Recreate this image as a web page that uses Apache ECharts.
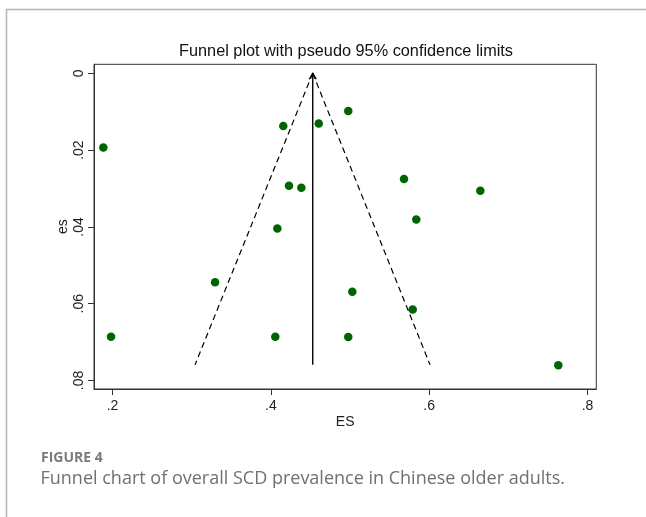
<!DOCTYPE html>
<html>
<head>
<meta charset="utf-8">
<script src="https://cdn.jsdelivr.net/npm/echarts@6/dist/echarts.min.js"></script>
<style>
  html, body { margin: 0; padding: 0; background: #fff; }
  #chart { width: 646px; height: 517px; }
</style>
</head>
<body>
<div id="chart"></div>
<script>
// Study effect sizes (ES) and standard errors (es)
const studyES = [0.1884, 0.1981, 0.4157, 0.4229, 0.4385, 0.4082, 0.3295, 0.4056, 0.4605,
                 0.4978, 0.5682, 0.6646, 0.5837, 0.5029, 0.5792, 0.4978, 0.7631];
const studySE = [0.0193, 0.0686, 0.0137, 0.0293, 0.0298, 0.0404, 0.0544, 0.0686, 0.0131,
                 0.0098, 0.0275, 0.0306, 0.0381, 0.0569, 0.0615, 0.0687, 0.0760];
// Pooled estimate line and pseudo 95% limits (apex -> bottom)
const pooledES = [0.4529, 0.4529];
const pooledSE = [0.0759, 0];
const lowerLimitES = [0.4529, 0.3042];
const upperLimitES = [0.4529, 0.6011];
const limitSE = [0, 0.0759];
// Axis ticks
const xTicks = [0.2, 0.4, 0.6, 0.8];
const yTicks = [0, 0.02, 0.04, 0.06, 0.08];

const titleText = 'Funnel plot with pseudo 95% confidence limits';
const figLabel = 'FIGURE 4';
const captionText = 'Funnel chart of overall SCD prevalence in Chinese older adults.';

const fmt = v => (v === 0 ? '0' : String(+v.toFixed(2)).replace(/^0\./, '.'));
const zip = (a, b) => a.map((v, i) => [v, b[i]]);

const chart = echarts.init(document.getElementById('chart'), null, { renderer: 'canvas' });
const axisColor = '#333';
const font = '"Liberation Sans", Arial, sans-serif';

chart.setOption({
  animation: false,
  backgroundColor: '#fff',
  grid: {
    left: 94, top: 64.3, right: 49.7, bottom: 128,
    show: true, borderColor: axisColor, borderWidth: 1, backgroundColor: '#fff'
  },
  xAxis: {
    type: 'value', min: 0.1766, max: 0.8111,
    name: 'ES', nameLocation: 'middle', nameGap: 26, nameMoveOverlap: false,
    nameTextStyle: { fontFamily: font, fontSize: 14, color: '#222' },
    axisLine: { show: true, onZero: false, lineStyle: { color: axisColor, width: 1 } },
    axisTick: { show: true, length: 6, lineStyle: { color: axisColor }, customValues: xTicks },
    axisLabel: { fontFamily: font, fontSize: 14, color: '#222', margin: 10,
                 customValues: xTicks, formatter: fmt },
    splitLine: { show: false }
  },
  yAxis: {
    type: 'value', inverse: true, min: -0.00234, max: 0.08221,
    name: 'es', nameLocation: 'middle', nameGap: 24, nameRotate: 90, nameMoveOverlap: false,
    nameTextStyle: { fontFamily: font, fontSize: 14, color: '#222' },
    axisLine: { show: true, onZero: false, lineStyle: { color: axisColor, width: 1 } },
    axisTick: { show: true, length: 6, lineStyle: { color: axisColor }, customValues: yTicks },
    axisLabel: { fontFamily: font, fontSize: 14, color: '#222', margin: 8, rotate: 90,
                 customValues: yTicks, formatter: fmt },
    splitLine: { show: false }
  },
  graphic: [
    { type: 'line', shape: { x1: 6, y1: 9.5, x2: 646, y2: 9.5 }, style: { stroke: '#b4b4b4', lineWidth: 1.5 }, silent: true },
    { type: 'line', shape: { x1: 6.5, y1: 9, x2: 6.5, y2: 517 }, style: { stroke: '#b4b4b4', lineWidth: 1.5 }, silent: true },
    { type: 'text', x: 346, y: 52, silent: true,
      style: { text: titleText, fontFamily: font, fontSize: 16.3, fill: '#111', align: 'center', verticalAlign: 'middle' } },
    { type: 'text', x: 41, y: 458.5, silent: true,
      style: { text: figLabel, fontFamily: '"Open Sans", sans-serif', fontWeight: 'bold', fontSize: 14, fill: '#7a7a7a', align: 'left', verticalAlign: 'middle' } },
    { type: 'text', x: 40.5, y: 478.5, silent: true,
      style: { text: captionText, fontFamily: '"Open Sans", sans-serif', fontSize: 18, fill: '#707070', align: 'left', verticalAlign: 'middle' } }
  ],
  series: [
    {
      type: 'line', data: zip(lowerLimitES, limitSE), symbol: 'none', clip: false, silent: true,
      lineStyle: { color: '#000', width: 1.2, type: [6, 4] }
    },
    {
      type: 'line', data: zip(upperLimitES, limitSE), symbol: 'none', clip: false, silent: true,
      lineStyle: { color: '#000', width: 1.2, type: [6, 4] }
    },
    {
      type: 'line', data: zip(pooledES, pooledSE), clip: false, silent: true,
      symbol: (val, params) => (params.dataIndex === 1 ? 'path://M0,6 L4,0 L8,6' : 'none'),
      symbolSize: [7, 6], symbolOffset: [0, 3], symbolRotate: 0,
      showAllSymbol: true,
      itemStyle: { color: 'rgba(0,0,0,0)', borderColor: '#000', borderWidth: 1.2 },
      lineStyle: { color: '#000', width: 1.4, type: 'solid' }
    },
    {
      type: 'scatter', data: zip(studyES, studySE), symbol: 'circle', symbolSize: 8.5, clip: false,
      itemStyle: { color: '#006400', opacity: 1 }
    }
  ]
});
</script>
</body>
</html>
